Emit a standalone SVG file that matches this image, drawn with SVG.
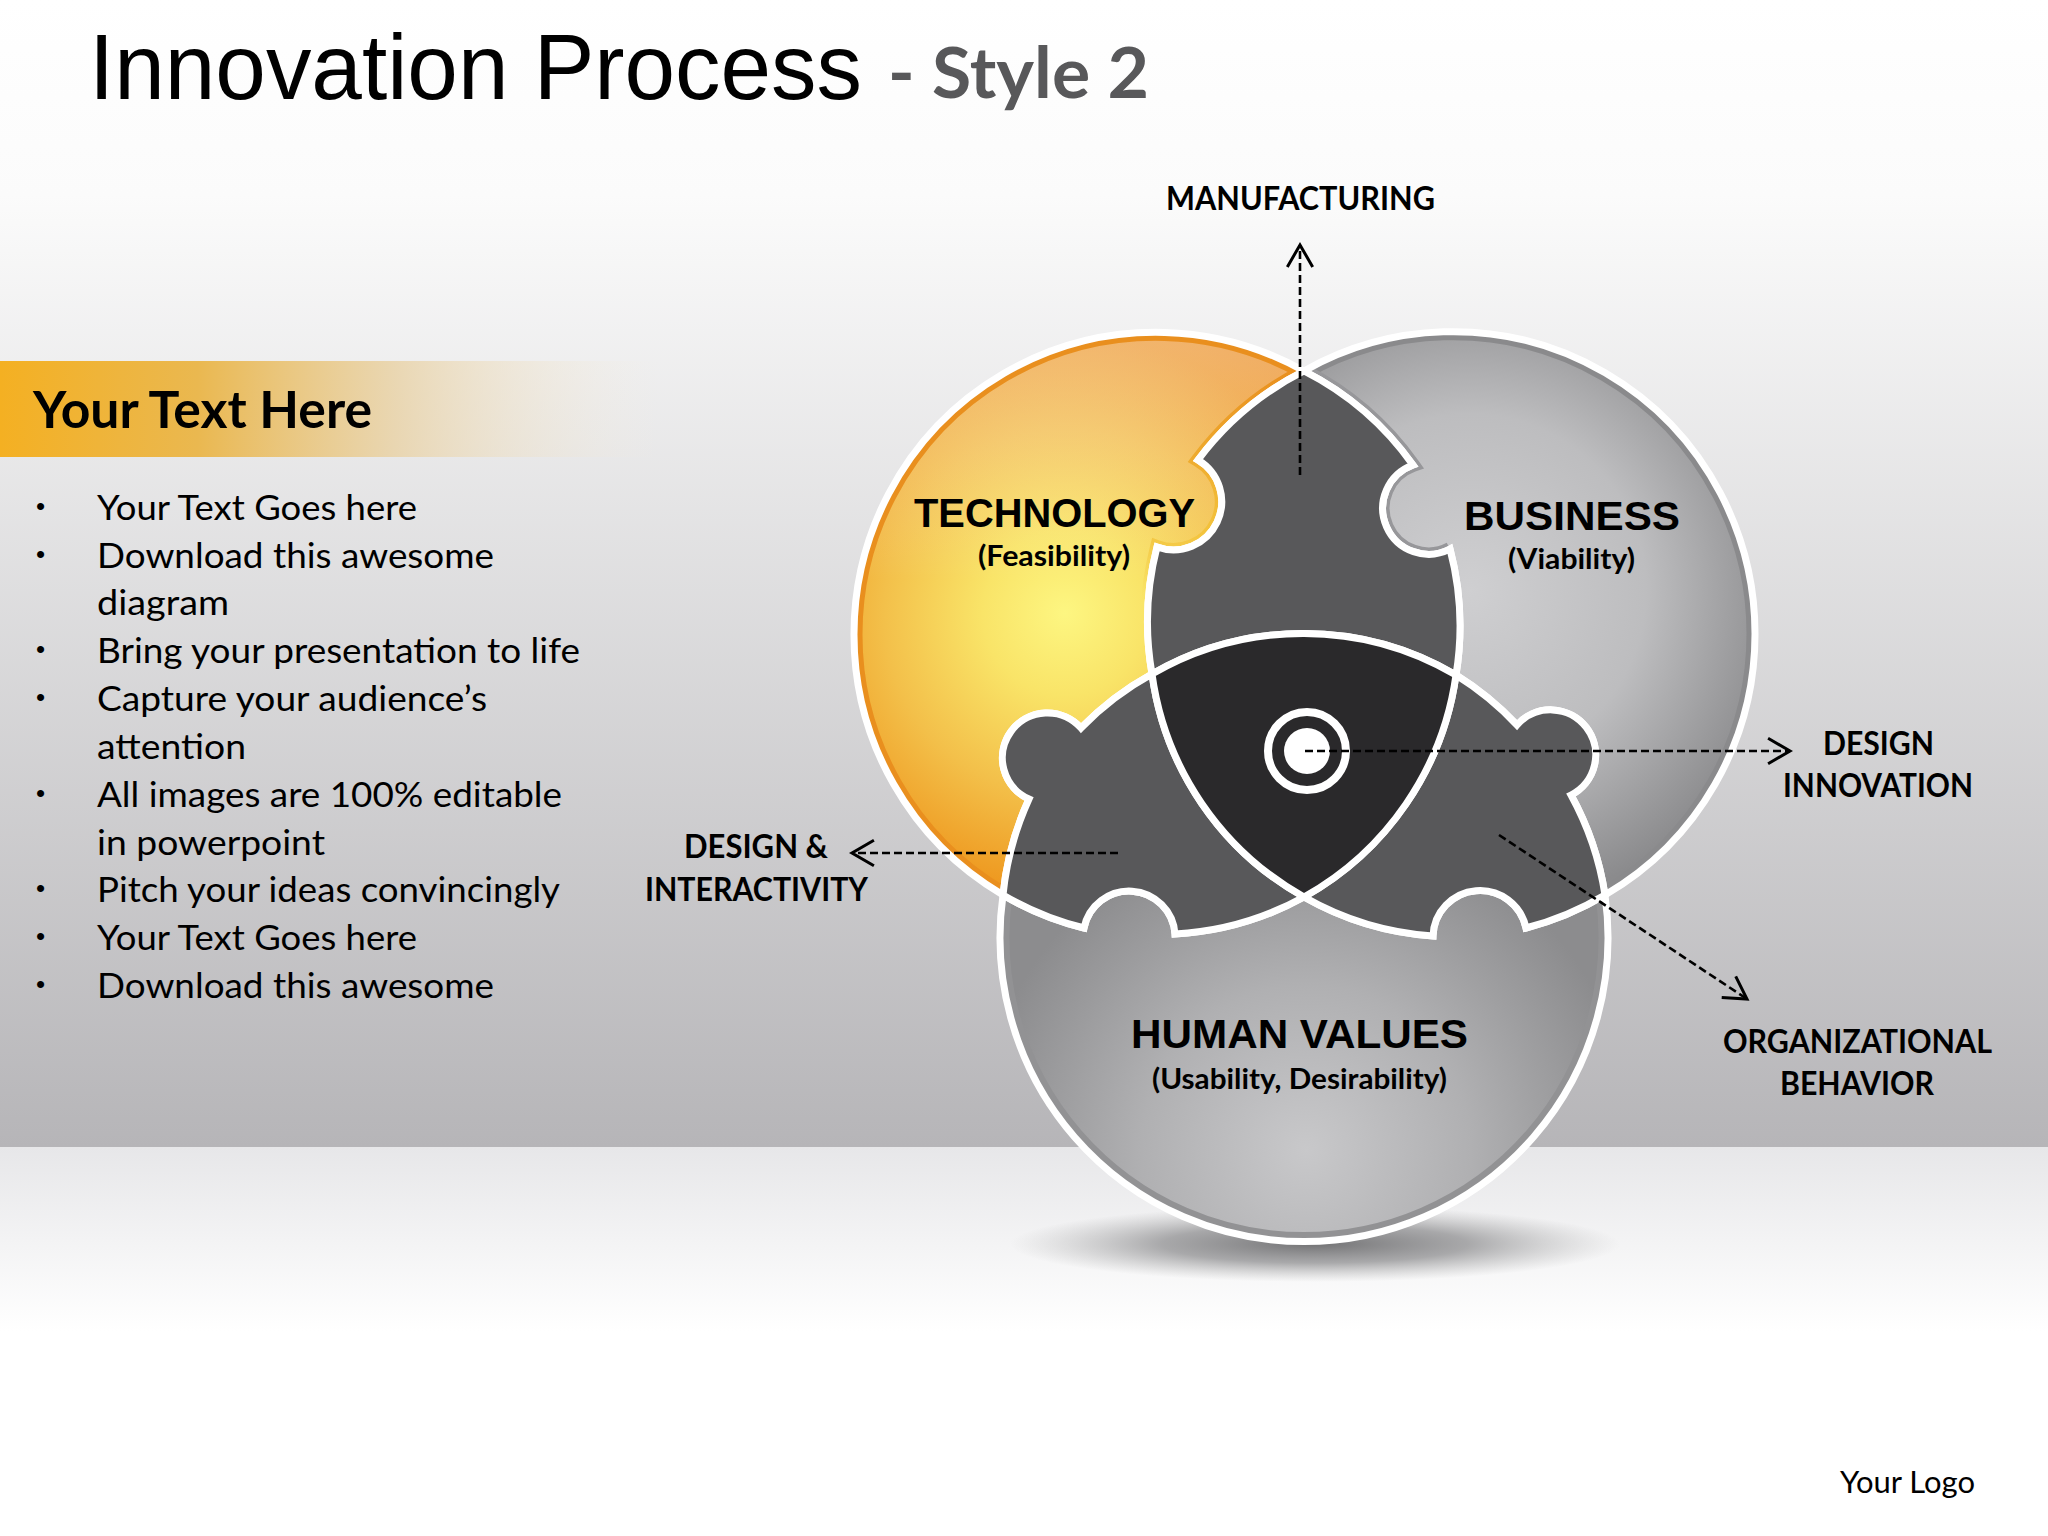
<svg xmlns="http://www.w3.org/2000/svg" xmlns:xlink="http://www.w3.org/1999/xlink" width="2048" height="1536" viewBox="0 0 2048 1536">
<style>
.sans{font-family:"Liberation Sans",Arial,sans-serif}
.lato{font-family:Lato,"Open Sans",sans-serif}
.bold{font-weight:700}
.big{font-size:41px;font-weight:700;fill:#000}
.sub{font-size:29px;font-weight:700;fill:#000}
.lab{font-size:32px;font-weight:700;fill:#000}
.li{font-size:34px;fill:#000}
.bu{font-family:"Liberation Sans",Arial,sans-serif;font-size:26px;fill:#000}
.edge{fill:none;stroke:#fff;stroke-width:7;stroke-linejoin:miter}
.conn{fill:none;stroke:#000;stroke-width:2.6;stroke-dasharray:8 4}
</style>
<defs>
<linearGradient id="bg" x1="0" y1="0" x2="0" y2="1"><stop offset="0" stop-color="#fff"/><stop offset=".17" stop-color="#fbfbfb"/><stop offset="1" stop-color="#b6b5b8"/></linearGradient>
<linearGradient id="floor" x1="0" y1="0" x2="0" y2="1"><stop offset="0" stop-color="#e7e7e9"/><stop offset="1" stop-color="#fff"/></linearGradient>
<linearGradient id="band" x1="0" y1="0" x2="1" y2="0"><stop offset="0" stop-color="#f4b022"/><stop offset=".3" stop-color="#eab850"/><stop offset=".6" stop-color="#e9d3a8" stop-opacity=".85"/><stop offset="1" stop-color="#f4eee2" stop-opacity="0"/></linearGradient>
<radialGradient id="sh" cx=".5" cy=".5" r=".5"><stop offset="0" stop-color="#6c6c6e" stop-opacity=".95"/><stop offset=".5" stop-color="#88888a" stop-opacity=".7"/><stop offset="1" stop-color="#aaa" stop-opacity="0"/></radialGradient>
<radialGradient id="gT" gradientUnits="userSpaceOnUse" cx="1065" cy="613" r="330"><stop offset="0" stop-color="#fdf681"/><stop offset=".25" stop-color="#f9e468"/><stop offset=".55" stop-color="#f3c04a"/><stop offset=".85" stop-color="#ee981f"/><stop offset="1" stop-color="#ec8f1b"/></radialGradient>
<linearGradient id="gTo" gradientUnits="userSpaceOnUse" x1="0" y1="330" x2="0" y2="580"><stop offset="0" stop-color="#f6d9d0" stop-opacity=".45"/><stop offset="1" stop-color="#fff" stop-opacity="0"/></linearGradient>
<linearGradient id="gTr" gradientUnits="userSpaceOnUse" x1="0" y1="370" x2="0" y2="600"><stop offset="0" stop-color="#e98f1e"/><stop offset=".7" stop-color="#f3c33c"/><stop offset="1" stop-color="#f5d650" stop-opacity="0"/></linearGradient>
<radialGradient id="gB" gradientUnits="userSpaceOnUse" cx="1470" cy="590" r="320"><stop offset="0" stop-color="#cfcfd1"/><stop offset=".55" stop-color="#bdbdbf"/><stop offset="1" stop-color="#8b8b8d"/></radialGradient>
<radialGradient id="gH" gradientUnits="userSpaceOnUse" cx="1306" cy="1150" r="330"><stop offset="0" stop-color="#c8c8ca"/><stop offset=".5" stop-color="#b0b0b2"/><stop offset="1" stop-color="#8c8c8e"/></radialGradient>
<path id="pT" d="M1304 371A302 302 0 0 0 854 634A302 302 0 0 0 1003 895A302 302 0 0 1 1029 799A45 45 0 1 1 1081 728A302 302 0 0 1 1152 674A302 302 0 0 1 1157 547A48.3 48.3 0 0 0 1198 460A302 302 0 0 1 1304 371Z"/>
<path id="pB" d="M1304 371A302 302 0 0 1 1755 634A302 302 0 0 1 1605 895A302 302 0 0 0 1571 795A45 45 0 1 0 1517 725A302 302 0 0 0 1456 675A302 302 0 0 0 1450 549A46 46 0 1 1 1413 465A302 302 0 0 0 1304 371Z"/>
<path id="pH" d="M1003 895A304 304 0 1 0 1605 895A302 302 0 0 1 1526 928A47 47 0 0 0 1433 936A302 302 0 0 1 1304 897A302 302 0 0 1 1175 934A46 46 0 0 0 1084 928A302 302 0 0 1 1003 895Z"/>
<clipPath id="cT"><use xlink:href="#pT"/></clipPath>
<clipPath id="cB"><use xlink:href="#pB"/></clipPath>
<clipPath id="cH"><use xlink:href="#pH"/></clipPath>
<marker id="arr" markerUnits="userSpaceOnUse" markerWidth="30" markerHeight="30" refX="21" refY="13" orient="auto" viewBox="0 0 24 26"><path d="M2 2L21 13L2 24" fill="none" stroke="#000" stroke-width="2.6"/></marker>
</defs>

<rect width="2048" height="1147" fill="url(#bg)"/>
<rect y="1147" width="2048" height="185" fill="url(#floor)"/>
<rect y="1332" width="2048" height="204" fill="#fff"/>
<rect y="361" width="660" height="96" fill="url(#band)"/>

<g id="title">
<text class="sans" x="89" y="99" font-size="92" fill="#000" textLength="773" lengthAdjust="spacingAndGlyphs">Innovation Process</text>
<text class="lato bold" x="888" y="98" font-size="70" fill="#58585a" textLength="261" lengthAdjust="spacingAndGlyphs">- Style 2</text>
</g>

<g id="text-panel">
<text class="lato bold" x="33" y="428" font-size="52" fill="#000" textLength="339" lengthAdjust="spacingAndGlyphs">Your Text Here</text>
<g class="lato">
<text class="bu" x="36" y="515">•</text><text class="li" x="97" y="520" textLength="320" lengthAdjust="spacingAndGlyphs">Your Text Goes here</text>
<text class="bu" x="36" y="563">•</text><text class="li" x="97" y="568" textLength="397" lengthAdjust="spacingAndGlyphs">Download this awesome</text>
<text class="li" x="97" y="615" textLength="132" lengthAdjust="spacingAndGlyphs">diagram</text>
<text class="bu" x="36" y="658">•</text><text class="li" x="97" y="663" textLength="483" lengthAdjust="spacingAndGlyphs">Bring your presentation to life</text>
<text class="bu" x="36" y="706">•</text><text class="li" x="97" y="711" textLength="390" lengthAdjust="spacingAndGlyphs">Capture your audience’s</text>
<text class="li" x="97" y="759" textLength="149" lengthAdjust="spacingAndGlyphs">attention</text>
<text class="bu" x="36" y="802">•</text><text class="li" x="97" y="807" textLength="465" lengthAdjust="spacingAndGlyphs">All images are 100% editable</text>
<text class="li" x="97" y="855" textLength="228" lengthAdjust="spacingAndGlyphs">in powerpoint</text>
<text class="bu" x="36" y="897">•</text><text class="li" x="97" y="902" textLength="463" lengthAdjust="spacingAndGlyphs">Pitch your ideas convincingly</text>
<text class="bu" x="36" y="945">•</text><text class="li" x="97" y="950" textLength="320" lengthAdjust="spacingAndGlyphs">Your Text Goes here</text>
<text class="bu" x="36" y="993">•</text><text class="li" x="97" y="998" textLength="397" lengthAdjust="spacingAndGlyphs">Download this awesome</text>
</g>
</g>

<ellipse id="shadow" cx="1315" cy="1244" rx="305" ry="38" fill="url(#sh)"/>

<g id="technology">
<use xlink:href="#pT" fill="url(#gT)"/>
<use xlink:href="#pT" fill="url(#gTo)"/>
<path d="M1304 371A302 302 0 0 0 854 634A302 302 0 0 0 1003 895" fill="none" stroke="#e98f1e" stroke-width="17" clip-path="url(#cT)"/>
<path d="M1152 674A302 302 0 0 1 1157 547A48.3 48.3 0 0 0 1198 460A302 302 0 0 1 1304 371" fill="none" stroke="url(#gTr)" stroke-width="14" clip-path="url(#cT)"/>
<use xlink:href="#pT" class="edge"/>
<text class="sans big" x="914" y="527" textLength="281" lengthAdjust="spacingAndGlyphs">TECHNOLOGY</text>
<text class="lato sub" x="978" y="566" textLength="152" lengthAdjust="spacingAndGlyphs">(Feasibility)</text>
</g>
<g id="business">
<use xlink:href="#pB" fill="url(#gB)"/>
<path d="M1304 371A302 302 0 0 1 1755 634A302 302 0 0 1 1605 895" fill="none" stroke="#8a8a8c" stroke-width="17" clip-path="url(#cB)"/>
<path d="M1304 371A302 302 0 0 1 1413 465A46 46 0 1 0 1450 549" fill="none" stroke="#97979a" stroke-width="14" clip-path="url(#cB)"/>
<use xlink:href="#pB" class="edge"/>
<text class="sans big" x="1464" y="530" textLength="216" lengthAdjust="spacingAndGlyphs">BUSINESS</text>
<text class="lato sub" x="1508" y="569" textLength="127" lengthAdjust="spacingAndGlyphs">(Viability)</text>
</g>
<g id="human-values">
<use xlink:href="#pH" fill="url(#gH)"/>
<path d="M1003 895A304 304 0 1 0 1605 895" fill="none" stroke="#929294" stroke-width="19" clip-path="url(#cH)"/>
<use xlink:href="#pH" class="edge"/>
<text class="sans big" x="1131" y="1048" textLength="337" lengthAdjust="spacingAndGlyphs">HUMAN VALUES</text>
<text class="lato sub" x="1152" y="1089" textLength="295" lengthAdjust="spacingAndGlyphs">(Usability, Desirability)</text>
</g>

<g id="overlap-top"><path class="edge" style="fill:#58585a" d="M1304 371A302 302 0 0 1 1413 465A46 46 0 1 0 1450 549A302 302 0 0 1 1456 675A302 302 0 0 0 1152 674A302 302 0 0 1 1157 547A48.3 48.3 0 0 0 1198 460A302 302 0 0 1 1304 371Z"/></g>
<g id="overlap-left"><path class="edge" style="fill:#58585a" d="M1152 674A302 302 0 0 0 1081 728A45 45 0 1 0 1029 799A302 302 0 0 0 1003 895A302 302 0 0 0 1084 928A46 46 0 0 1 1175 934A302 302 0 0 0 1304 897A302 302 0 0 1 1152 674Z"/></g>
<g id="overlap-right"><path class="edge" style="fill:#58585a" d="M1456 675A302 302 0 0 1 1517 725A45 45 0 1 1 1571 795A302 302 0 0 1 1605 895A302 302 0 0 1 1526 928A47 47 0 0 0 1433 936A302 302 0 0 1 1304 897A302 302 0 0 0 1456 675Z"/></g>
<g id="core">
<path class="edge" style="fill:#2a292b" d="M1152 674A302 302 0 0 1 1456 675A302 302 0 0 1 1304 897A302 302 0 0 1 1152 674Z"/>
<circle cx="1307" cy="751" r="39" fill="none" stroke="#fff" stroke-width="8"/>
<circle cx="1307" cy="751" r="23" fill="#fff"/>
</g>

<g id="connectors">
<path class="conn" d="M1300 475V245" marker-end="url(#arr)"/>
<path class="conn" d="M1305 751H1790" marker-end="url(#arr)"/>
<path class="conn" d="M1118 853H852" marker-end="url(#arr)"/>
<path class="conn" d="M1499 835L1747 999" marker-end="url(#arr)"/>
</g>

<g id="labels" class="lato">
<text class="lab" x="1166" y="210" textLength="269" lengthAdjust="spacingAndGlyphs">MANUFACTURING</text>
<text class="lab" x="684" y="858" textLength="144" lengthAdjust="spacingAndGlyphs">DESIGN &amp;</text>
<text class="lab" x="645" y="901" textLength="223" lengthAdjust="spacingAndGlyphs">INTERACTIVITY</text>
<text class="lab" x="1823" y="755" textLength="111" lengthAdjust="spacingAndGlyphs">DESIGN</text>
<text class="lab" x="1783" y="797" textLength="190" lengthAdjust="spacingAndGlyphs">INNOVATION</text>
<text class="lab" x="1723" y="1053" textLength="269" lengthAdjust="spacingAndGlyphs">ORGANIZATIONAL</text>
<text class="lab" x="1780" y="1095" textLength="154" lengthAdjust="spacingAndGlyphs">BEHAVIOR</text>
<text x="1840" y="1493" font-size="31" fill="#000" textLength="135" lengthAdjust="spacingAndGlyphs">Your Logo</text>
</g>
</svg>
